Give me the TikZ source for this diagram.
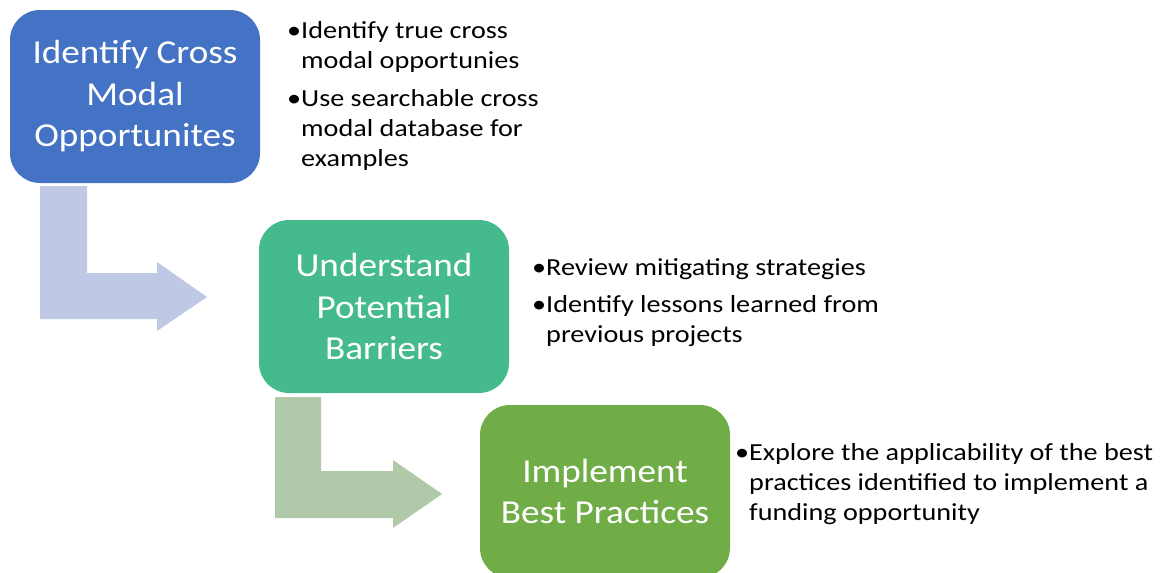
\documentclass[tikz,border=0pt]{standalone}
\usepackage{fontspec}
\setmainfont{Carlito}
\newfontfamily\boxfont{Carlito}[FakeStretch=1.11]
\newfontfamily\bulfont{Carlito}[FakeStretch=1.15]
\definecolor{bblue}{HTML}{4472C4}
\definecolor{bteal}{HTML}{45BB8D}
\definecolor{bgreen}{HTML}{70AD47}
\definecolor{ablue}{HTML}{BFC9E5}
\definecolor{agreen}{HTML}{B0C9A8}
\tikzset{
  stagebox/.style={rounded corners=30pt, minimum width=250pt, minimum height=173pt,
    inner sep=0pt, text=white, align=center,
    font=\boxfont\fontsize{33.5}{41.5}\selectfont},
  bullettext/.style={anchor=base west, inner sep=0pt, text=black,
    font=\bulfont\fontsize{24.5}{30}\selectfont},
}
\newcommand{\btab}[1]{\begin{tabular}[t]{@{}l@{}l@{}}#1\end{tabular}}
\begin{document}
\begin{tikzpicture}[x=1pt,y=-1pt]
\useasboundingbox (0,0) rectangle (1165,573);
\clip (0,0) rectangle (1165,573);
% bent arrows
\fill[ablue] (40,186) -- (87,186) -- (87,273) -- (157,273) -- (157,262) -- (207,297)
  -- (157,331) -- (157,319) -- (40,319) -- cycle;
\fill[agreen] (275,397) -- (321,397) -- (321,471) -- (393,471) -- (393,460) -- (442,494)
  -- (393,528) -- (393,518) -- (275,518) -- cycle;
% stage boxes
\node[stagebox, fill=bblue] (s1) at (135,96.5) {Identify Cross\\Modal\\Opportunites};
\node[stagebox, fill=bteal] (s2) at (384,306.5) {Understand\\Potential\\Barriers};
\node[stagebox, fill=bgreen] (s3) at (605,491.5) {Implement\\Best Practices};
% bullet texts
\node[bullettext] (t1a) at (287,38) {\btab{\textbullet & Identify true cross\\ & modal opportunies}};
\node[bullettext] (t1b) at (287,106) {\btab{\textbullet & Use searchable cross\\ & modal database for\\ & examples}};
\node[bullettext] (t2a) at (532,275) {\btab{\textbullet & Review mitigating strategies}};
\node[bullettext] (t2b) at (532,312) {\btab{\textbullet & Identify lessons learned from\\ & previous projects}};
\node[bullettext] (t3a) at (735,460) {\btab{\textbullet & Explore the applicability of the best\\ & practices identified to implement a\\ & funding opportunity}};
\end{tikzpicture}
\end{document}
